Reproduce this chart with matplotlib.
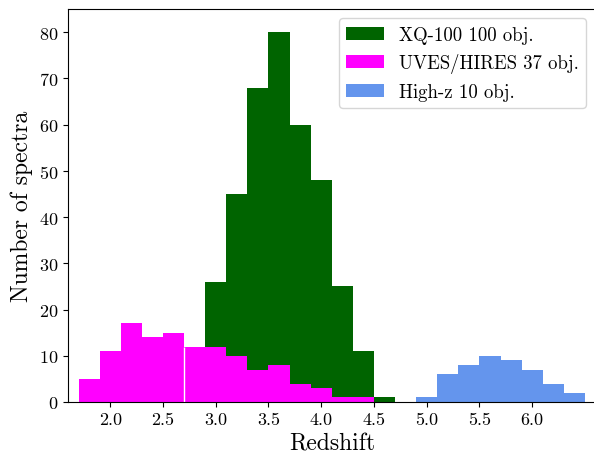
import numpy as np
import matplotlib
matplotlib.use("Agg")
import matplotlib.pyplot as plt

plt.rcParams['font.family'] = 'serif'
plt.rcParams['font.serif'] = ['cmr10']
plt.rcParams['mathtext.fontset'] = 'cm'
plt.rcParams['axes.formatter.use_mathtext'] = True

# bin edges (step 0.2 in redshift)
xq_edges = np.round(np.arange(2.9, 4.71, 0.2), 2)
xq_counts = [26, 45, 68, 80, 60, 48, 25, 11, 1]

uh_edges = np.round(np.arange(1.7, 4.51, 0.2), 2)
uh_counts = [5, 11, 17, 14, 15, 12, 12, 10, 7, 8, 4, 3, 1, 1]

hz_edges = np.round(np.arange(4.9, 6.51, 0.2), 2)
hz_counts = [1, 6, 8, 10, 9, 7, 4, 2]

labels = ['XQ-100 100 obj.', 'UVES/HIRES 37 obj.', 'High-z 10 obj.']
colors = ['darkgreen', 'magenta', 'cornflowerblue']

fig = plt.figure(figsize=(5.94, 4.56), dpi=100)
ax = fig.add_axes([68/594, 53/456, 527.5/594, 393/456])

for edges, counts, lab, col in zip([xq_edges, uh_edges, hz_edges],
                                   [xq_counts, uh_counts, hz_counts],
                                   labels, colors):
    ax.hist(edges[:-1], bins=edges, weights=counts, color=col, label=lab,
            histtype='bar', rwidth=1.0)

# thin seam inside the UVES/HIRES histogram
ax.vlines(2.7, 0, 12, color='white', lw=1)

ax.set_xlim(1.6, 6.6)
ax.set_ylim(0, 85)
ax.set_xticks([2.0, 2.5, 3.0, 3.5, 4.0, 4.5, 5.0, 5.5, 6.0])
ax.set_xticklabels(['2.0', '2.5', '3.0', '3.5', '4.0', '4.5', '5.0', '5.5', '6.0'])
ax.set_yticks(range(0, 81, 10))
ax.tick_params(labelsize=13)
ax.set_xlabel('Redshift', fontsize=17)
ax.set_ylabel('Number of spectra', fontsize=17)
ax.legend(loc='upper right', fontsize=13.5, handlelength=2.0)

fig.savefig('out.png', dpi=100)
